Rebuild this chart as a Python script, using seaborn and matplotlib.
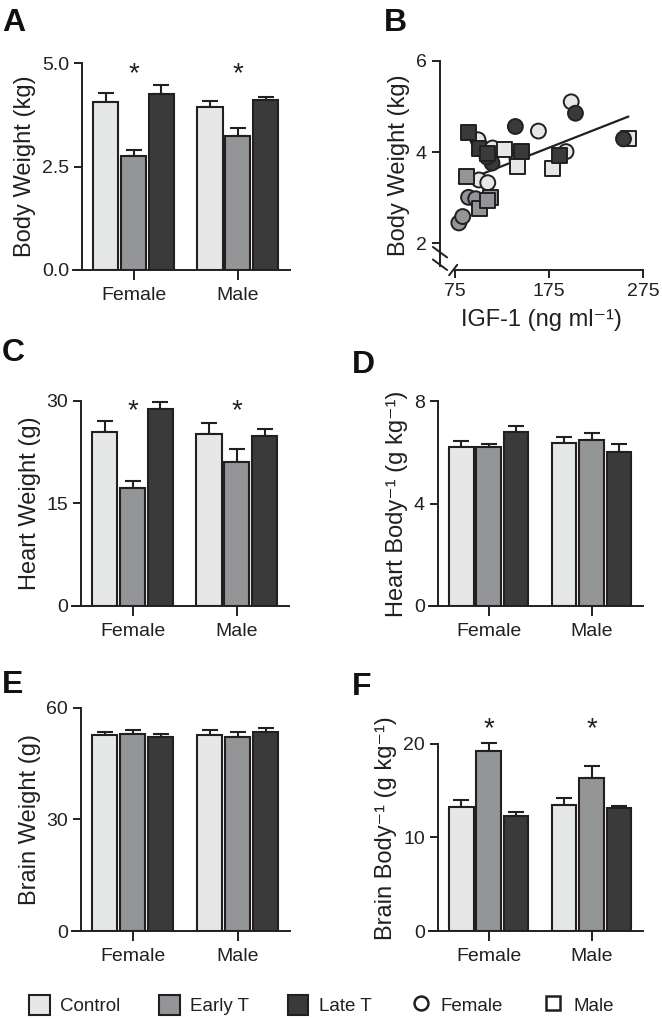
import numpy as np
import pandas as pd
import matplotlib
matplotlib.use("Agg")
import matplotlib.pyplot as plt
import seaborn as sns
from matplotlib.patches import Patch
from matplotlib.lines import Line2D

W, H = 662, 1019

sexes = ["Female", "Male"]
groups = ["Control", "Early T", "Late T"]
colors = ["#e6e7e7", "#939598", "#3a3a3a"]
edge = "#231f20"

# bar panels: values [Control, Early T, Late T] for Female then Male, plus upper SEM
body_f = [4.06, 2.76, 4.25]
body_m = [3.93, 3.24, 4.10]
body_err_f = [0.21, 0.14, 0.21]
body_err_m = [0.16, 0.20, 0.08]

heart_f = [25.4, 17.2, 28.8]
heart_m = [25.2, 21.1, 24.8]
heart_err_f = [1.6, 1.1, 1.0]
heart_err_m = [1.5, 1.8, 1.1]

heartrel_f = [6.20, 6.19, 6.80]
heartrel_m = [6.37, 6.49, 6.02]
heartrel_err_f = [0.22, 0.14, 0.21]
heartrel_err_m = [0.24, 0.27, 0.31]

brain_f = [52.7, 52.8, 52.0]
brain_m = [52.6, 52.0, 53.6]
brain_err_f = [0.7, 1.3, 0.9]
brain_err_m = [1.4, 1.5, 0.9]

brainrel_f = [13.2, 19.2, 12.3]
brainrel_m = [13.46, 16.3, 13.1]
brainrel_err_f = [0.75, 0.9, 0.45]
brainrel_err_m = [0.75, 1.3, 0.26]

# scatter panel B: IGF-1 (ng/ml) vs body weight (kg)
igf_ctrl_f = [99.8, 115.3, 164.0, 198.8, 193.3, 141.2, 100.9, 110.2]
bw_ctrl_f = [4.27, 4.09, 4.46, 5.10, 4.01, 3.85, 3.39, 3.33]
igf_ctrl_m = [128.4, 142.2, 179.1, 259.5]
bw_ctrl_m = [4.05, 3.69, 3.64, 4.29]
igf_early_f = [79.5, 83.6, 89.8, 97.4]
bw_early_f = [2.45, 2.59, 3.01, 2.98]
igf_early_m = [87.8, 101.9, 112.9, 109.5]
bw_early_m = [3.47, 2.77, 3.01, 2.94]
igf_late_f = [139.5, 203.3, 114.7, 109.5, 254.3]
bw_late_f = [4.56, 4.85, 3.76, 3.89, 4.29]
igf_late_m = [89.8, 100.9, 109.5, 146.4, 186.4]
bw_late_m = [4.42, 4.07, 3.96, 4.01, 3.93]

sns.set_theme(style="ticks")
plt.rcParams["font.family"] = ["Liberation Sans", "DejaVu Sans"]
plt.rcParams["axes.linewidth"] = 1.4
plt.rcParams["xtick.major.width"] = 1.4
plt.rcParams["ytick.major.width"] = 1.4
plt.rcParams["axes.edgecolor"] = edge
plt.rcParams["xtick.color"] = edge
plt.rcParams["ytick.color"] = edge
plt.rcParams["text.color"] = edge
plt.rcParams["axes.labelcolor"] = edge

fig = plt.figure(figsize=(W / 100, H / 100), dpi=100)


def rect(l, r, t, b):
    return [l / W, 1 - b / H, (r - l) / W, (b - t) / H]


def bar_panel(pos, vf, vm, ef, em, ylabel, yticks, ylim, tick_fmt="{:g}", stars=None):
    ax = fig.add_axes(rect(*pos))
    df = pd.DataFrame({
        "sex": np.repeat(sexes, 3),
        "group": groups * 2,
        "value": vf + vm,
        "err": ef + em,
    })
    sns.barplot(data=df, x="sex", y="value", hue="group", hue_order=groups,
                palette=colors, edgecolor=edge, linewidth=1.5, errorbar=None,
                width=0.8, gap=0.1, legend=False, ax=ax, zorder=3)
    for g, cont in zip(groups, ax.containers):
        sub = df[df["group"] == g]
        xs = [b.get_x() + b.get_width() / 2 for b in cont]
        ax.errorbar(xs, sub["value"], yerr=[np.zeros(len(sub)), sub["err"]],
                    fmt="none", ecolor=edge, elinewidth=1.5, capsize=5.5,
                    capthick=1.5, zorder=2, clip_on=False)
        if g == "Early T" and stars is not None:
            for x in xs:
                ax.text(x, stars, "*", ha="center", va="center", fontsize=20,
                        color=edge)
    ax.set_xlim(-0.58, 1.5)
    ax.set_ylim(*ylim)
    ax.set_yticks(yticks)
    ax.set_yticklabels([tick_fmt.format(t) for t in yticks])
    ax.spines["left"].set_position(("axes", 0.042))
    ax.spines["left"].set_bounds(yticks[0], yticks[-1])
    ax.spines["top"].set_visible(False)
    ax.spines["right"].set_visible(False)
    ax.tick_params(axis="both", labelsize=14, length=6)
    ax.tick_params(axis="x", length=7, pad=5)
    ax.set_xlabel("")
    ax.set_ylabel(ylabel, fontsize=17, labelpad=4)
    return ax


bar_panel((73, 290, 63, 270), body_f, body_m, body_err_f, body_err_m,
          "Body Weight (kg)", [0, 2.5, 5.0], (0, 5.0), "{:.1f}", stars=4.72)
bar_panel((72, 289, 400.7, 606), heart_f, heart_m, heart_err_f, heart_err_m,
          "Heart Weight (g)", [0, 15, 30], (0, 30), stars=28.4)
bar_panel((72, 290, 707.7, 931), brain_f, brain_m, brain_err_f, brain_err_m,
          "Brain Weight (g)", [0, 30, 60], (0, 60))
bar_panel((429, 643, 401, 606), heartrel_f, heartrel_m, heartrel_err_f, heartrel_err_m,
          "Heart Body⁻¹ (g kg⁻¹)", [0, 4, 8], (0, 8))
bar_panel((429, 643, 725, 931), brainrel_f, brainrel_m, brainrel_err_f, brainrel_err_m,
          "Brain Body⁻¹ (g kg⁻¹)", [0, 10, 20], (0, 22), stars=21.5)

# panel B scatter
axb = fig.add_axes(rect(440, 643, 60.7, 270))
parts = [
    (igf_ctrl_f, bw_ctrl_f, "Control", "Female"),
    (igf_ctrl_m, bw_ctrl_m, "Control", "Male"),
    (igf_early_f, bw_early_f, "Early T", "Female"),
    (igf_early_m, bw_early_m, "Early T", "Male"),
    (igf_late_f, bw_late_f, "Late T", "Female"),
    (igf_late_m, bw_late_m, "Late T", "Male"),
]
sc = pd.concat([pd.DataFrame({"igf": x, "bw": y, "group": g, "sex": s})
                for x, y, g, s in parts], ignore_index=True)
sns.regplot(data=sc, x="igf", y="bw", scatter=False, ci=None, ax=axb,
            line_kws={"color": edge, "lw": 1.6, "zorder": 1})
sns.scatterplot(data=sc, x="igf", y="bw", hue="group", hue_order=groups,
                palette=colors, style="sex", markers={"Female": "o", "Male": "s"},
                s=115, edgecolor=edge, linewidth=1.4, legend=False, ax=axb, zorder=3)
axb.set_xlim(59.5, 275)
axb.set_ylim(1.42, 6)
axb.set_xticks([75, 175, 275])
axb.set_yticks([2, 4, 6])
axb.spines["top"].set_visible(False)
axb.spines["right"].set_visible(False)
axb.spines["left"].set_bounds(1.5, 6)
axb.spines["bottom"].set_bounds(75, 275)
axb.tick_params(axis="both", labelsize=14, length=6)
axb.set_xlabel("IGF-1 (ng ml⁻¹)", fontsize=17, labelpad=6)
axb.set_ylabel("Body Weight (kg)", fontsize=17, labelpad=4)
# axis break marks
for dy in (0.085, 0.025):
    axb.plot([-0.035, 0.035], [dy + 0.025, dy - 0.025], transform=axb.transAxes,
             color=edge, lw=1.4, clip_on=False)
axb.plot([0.045, 0.085], [-0.025, 0.025], transform=axb.transAxes,
         color=edge, lw=1.4, clip_on=False)

# panel letters
for letter, x, y in [("A", 2, 8), ("B", 384, 8), ("C", 2, 338), ("D", 352, 350),
                     ("E", 2, 670), ("F", 352, 672)]:
    fig.text(x / W, 1 - y / H, letter, fontsize=23, fontweight="bold",
             va="top", ha="left", color="#111111")

# legend
handles = [Patch(facecolor=c, edgecolor=edge, linewidth=1.5) for c in colors]
handles += [
    Line2D([], [], marker="o", ls="none", markerfacecolor="white",
           markeredgecolor=edge, markersize=10, markeredgewidth=1.8),
    Line2D([], [], marker="s", ls="none", markerfacecolor="white",
           markeredgecolor=edge, markersize=10, markeredgewidth=1.8),
]
labels = groups + ["Female", "Male"]
fig.legend(handles, labels, loc="center", bbox_to_anchor=(321.5 / W, 1 - 1005 / H),
           ncol=5, frameon=False, fontsize=13.5, handlelength=1.07,
           handleheight=1.25, columnspacing=2.1, handletextpad=0.55)

fig.savefig("out.png", dpi=100)
